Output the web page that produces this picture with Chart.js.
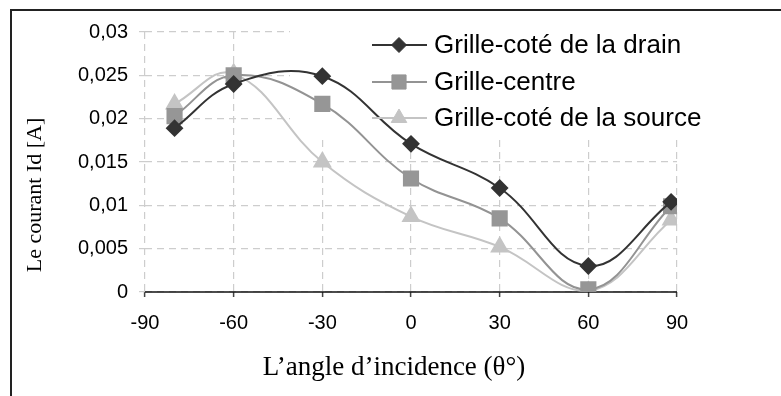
<!DOCTYPE html>
<html>
<head>
<meta charset="utf-8">
<script src="https://cdn.jsdelivr.net/npm/chart.js@4.4.1/dist/chart.umd.min.js"></script>
<style>
  html, body { margin: 0; padding: 0; background: #fff; overflow: hidden; }
  #wrap { position: relative; width: 781px; height: 396px; }
  #chart { position: absolute; left: 0; top: 0; }
  #frame { position: absolute; left: 10px; top: 9px; width: 800px; height: 400px;
           border-left: 2px solid #222; border-top: 2px solid #222; pointer-events: none; }
</style>
</head>
<body>
<div id="wrap">
  <canvas id="chart" width="781" height="396"></canvas>
  <div id="frame"></div>
</div>
<script>
// données
const angles = [-80, -60, -30, 0, 30, 60, 88];
const drainValues = [0.0189, 0.0240, 0.0249, 0.0171, 0.0120, 0.0030, 0.0104];
const centreValues = [0.0203, 0.0250, 0.0217, 0.0131, 0.0085, 0.0003, 0.0099];
const sourceValues = [0.0217, 0.0252, 0.0150, 0.0087, 0.0052, 0.0001, 0.0083];
const seriesLabels = ['Grille-coté de la drain', 'Grille-centre', 'Grille-coté de la source'];
const xTicks = [-90, -60, -30, 0, 30, 60, 90];
const yTicks = [0, 0.005, 0.01, 0.015, 0.02, 0.025, 0.03];
const xTitle = 'L\u2019angle d\u2019incidence (\u03b8\u00b0)';
const yTitle = 'Le courant Id [A]';

const sans = "'Liberation Sans', Arial, sans-serif";
const serif = "'Liberation Serif', 'Times New Roman', serif";

function toPoints(values) {
  return angles.map((a, i) => ({ x: a, y: values[i] }));
}

function fmtComma(v) {
  return String(+v.toFixed(3)).replace('.', ',');
}

// légende, axe horizontal et titres dessinés à la main
const decorations = {
  id: 'decorations',
  beforeDatasetsDraw(chart) {
    const ctx = chart.ctx;
    const area = chart.chartArea;
    ctx.save();
    ctx.fillStyle = '#fff';
    ctx.fillRect(290, 20, 430, 119);
    // ligne de l'axe x, pleine
    ctx.strokeStyle = '#111';
    ctx.lineWidth = 1.5;
    ctx.setLineDash([]);
    ctx.beginPath();
    ctx.moveTo(area.left, area.bottom);
    ctx.lineTo(area.right, area.bottom);
    ctx.stroke();
    ctx.restore();
  },
  afterDatasetsDraw(chart) {
    const ctx = chart.ctx;
    const rows = [45, 82, 118];
    ctx.save();
    chart.data.datasets.forEach((ds, i) => {
      const y = rows[i];
      ctx.strokeStyle = ds.borderColor;
      ctx.lineWidth = 2;
      ctx.setLineDash([]);
      ctx.beginPath();
      ctx.moveTo(372, y);
      ctx.lineTo(427, y);
      ctx.stroke();
      ctx.fillStyle = ds.pointBackgroundColor;
      ctx.strokeStyle = ds.pointBackgroundColor;
      ctx.lineWidth = 1;
      Chart.helpers.drawPoint(ctx, {
        pointStyle: ds.pointStyle, radius: ds.pointRadius, rotation: 0, borderWidth: 1
      }, 399, y);
      ctx.fillStyle = '#000';
      ctx.font = '26px ' + sans;
      ctx.textAlign = 'left';
      ctx.textBaseline = 'middle';
      ctx.fillText(ds.label, 434, y + 1);
    });
    ctx.restore();
  },
  afterDraw(chart) {
    const ctx = chart.ctx;
    ctx.save();
    ctx.fillStyle = '#000';
    ctx.font = '27px ' + serif;
    ctx.textAlign = 'center';
    ctx.textBaseline = 'alphabetic';
    ctx.fillText(xTitle, 394, 375);
    ctx.translate(41, 195);
    ctx.rotate(-Math.PI / 2);
    ctx.font = '22px ' + serif;
    ctx.fillText(yTitle, 0, 0);
    ctx.restore();
  }
};

const gridColor = '#cdcdcd';

new Chart(document.getElementById('chart'), {
  type: 'line',
  data: {
    datasets: [
      {
        label: seriesLabels[0],
        data: toPoints(drainValues),
        borderColor: '#333333',
        pointBackgroundColor: '#333333',
        pointBorderColor: '#333333',
        pointStyle: 'rectRot',
        pointRadius: 7.5,
        borderWidth: 2,
        tension: 0.4
      },
      {
        label: seriesLabels[1],
        data: toPoints(centreValues),
        borderColor: '#939393',
        pointBackgroundColor: '#969696',
        pointBorderColor: '#969696',
        pointStyle: 'rect',
        pointRadius: 10,
        borderWidth: 2,
        tension: 0.4
      },
      {
        label: seriesLabels[2],
        data: toPoints(sourceValues),
        borderColor: '#c4c4c4',
        pointBackgroundColor: '#c4c4c4',
        pointBorderColor: '#c4c4c4',
        pointStyle: 'triangle',
        pointRadius: 9,
        borderWidth: 2,
        tension: 0.4
      }
    ]
  },
  options: {
    responsive: false,
    animation: false,
    layout: { padding: { left: 0, top: 32, right: 104, bottom: 0 } },
    plugins: {
      legend: { display: false },
      tooltip: { enabled: false }
    },
    scales: {
      x: {
        type: 'linear',
        min: -90,
        max: 90,
        afterFit(s) { s.height = 104; },
        afterBuildTicks(s) { s.ticks = xTicks.map(v => ({ value: v })); },
        grid: {
          color: gridColor,
          tickColor: '#444',
          tickLength: 5,
          tickBorderDash: [],
          tickWidth: 1.5,
          lineWidth: 1.2
        },
        border: { display: false, dash: [7, 5] },
        ticks: {
          color: '#000',
          padding: 14,
          font: { family: sans, size: 20 },
          callback: v => String(v)
        },
        title: { display: false }
      },
      y: {
        min: 0,
        max: 0.03,
        afterFit(s) { s.width = 145; },
        afterBuildTicks(s) { s.ticks = yTicks.map(v => ({ value: v })); },
        grid: {
          color: gridColor,
          tickColor: gridColor,
          tickLength: 6,
          tickBorderDash: [],
          lineWidth: 1.2
        },
        border: { display: false, dash: [7, 5] },
        ticks: {
          color: '#000',
          padding: 11,
          font: { family: sans, size: 20 },
          callback: v => fmtComma(v)
        },
        title: { display: false }
      }
    }
  },
  plugins: [decorations]
});
</script>
</body>
</html>
